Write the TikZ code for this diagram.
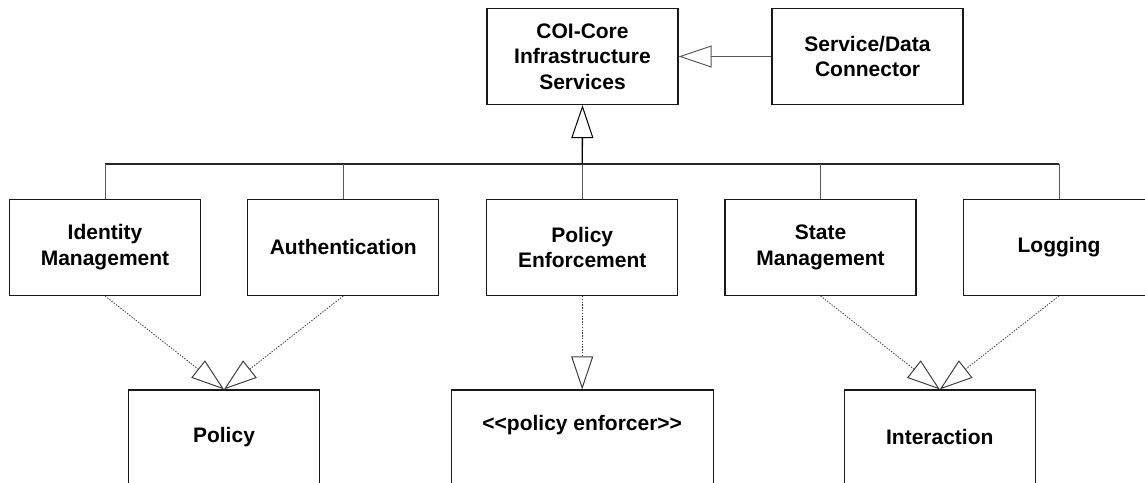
\documentclass[tikz,border=0pt]{standalone}
\usepackage{fontspec}
\setmainfont{Liberation Sans}
\usetikzlibrary{arrows.meta}
\tikzset{
  box/.style={draw=black!90, line width=1.2pt, minimum width=191pt, minimum height=96pt,
    inner sep=0pt, align=center, font=\fontsize{21}{25.5}\selectfont\bfseries},
  boxlabel/.style={inner sep=0pt, align=center, font=\fontsize{21}{25.5}\selectfont\bfseries},
  hollow/.style={-{Triangle[open, length=33pt, width=22pt, line width=1pt]}},
  link/.style={draw=black!65, line width=1pt},
  busline/.style={draw=black!85, line width=1.2pt},
  realize/.style={draw=black!75, line width=0.8pt, dash pattern=on 1.4pt off 1.4pt},
}
\begin{document}
\begin{tikzpicture}[x=1pt, y=-1pt]
\useasboundingbox (0,0) rectangle (1145,482);
\clip (0,0) rectangle (1145,482);

% core service and the connector that specialises it
\node[box] (coi) at (582.5,56.5) {COI-Core\\Infrastructure\\Services};
\node[box] (sdc) at (867.5,56.5) {Service/Data\\Connector};

% infrastructure services
\node[box] (ident) at (105,247.3) {Identity\\Management};
\node[box] (auth)  at (343.3,247.3) {Authentication};
\node[box] (penf)  at (582.2,247.3) {Policy\\Enforcement};
\node[box] (state) at (820.5,247.3) {State\\Management};
\node[box] (logg)  at (1059,247.3) {Logging};

% realised interfaces
\node[box, minimum height=94pt] (policy) at (224,437) {Policy};
\node[box, minimum width=262pt, minimum height=100pt] (pebox) at (582.2,440) {};
\node[boxlabel] (petext) at (582.2,425) {<\kern0pt<policy enforcer>\kern0pt>};
\node[box, minimum height=94pt] (inter) at (939.8,437) {Interaction};

\coordinate (bus) at (582.2,164);

% generalisation tree
\draw[link, hollow] (sdc.west) -- (coi.east);
\draw[busline] (ident.north |- bus) -- (logg.north |- bus);
\draw[link] (ident.north) -- (ident.north |- bus);
\draw[link] (auth.north) -- (auth.north |- bus);
\draw[link] (penf.north) -- (bus);
\draw[link] (state.north) -- (state.north |- bus);
\draw[link] (logg.north) -- (logg.north |- bus);
\draw[draw=black, line width=1.4pt, hollow] (bus) -- (coi.south);

% realisations
\draw[realize, hollow] (ident.south) -- (policy.north);
\draw[realize, hollow] (auth.south) -- (policy.north);
\draw[realize, hollow] (penf.south) -- (pebox.north);
\draw[realize, hollow] (state.south) -- (inter.north);
\draw[realize, hollow] (logg.south) -- (inter.north);
\end{tikzpicture}
\end{document}
